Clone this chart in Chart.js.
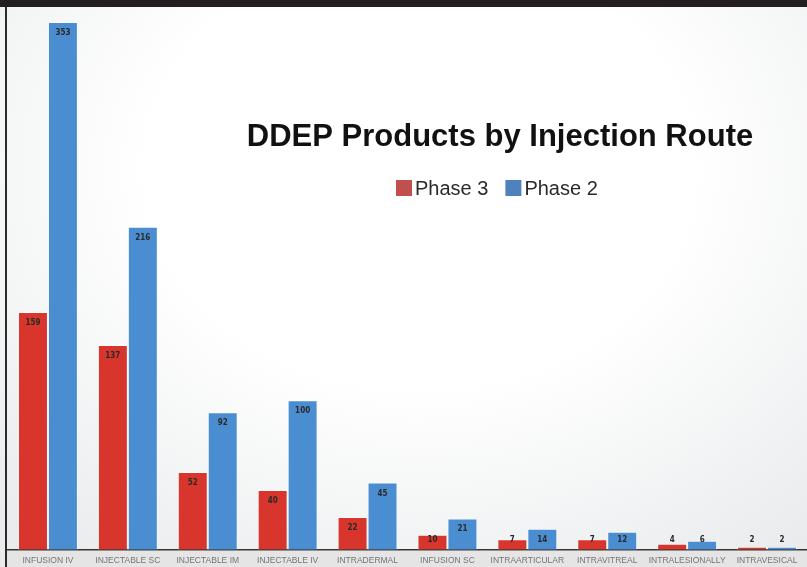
<!DOCTYPE html>
<html>
<head>
<meta charset="utf-8">
<title>DDEP Products by Injection Route</title>
<script src="https://cdn.jsdelivr.net/npm/chart.js@4.4.1/dist/chart.umd.min.js"></script>
<style>
  html, body { margin: 0; padding: 0; background: #fff; }
  #wrap {
    position: relative; width: 807px; height: 567px; overflow: hidden;
    background: radial-gradient(ellipse 75% 85% at 52% 30%, #ffffff 45%, #e9ebec 100%);
  }
  #topband { position: absolute; left: 0; top: 0; width: 807px; height: 7px; background: #231f20; }
  #leftline { position: absolute; left: 5px; top: 7px; width: 2px; height: 560px; background: #2b2b2b; }
  #footer { position: absolute; left: 7px; top: 551px; width: 800px; height: 16px; background: #e5e5e5; }
  #chart { position: absolute; left: 0; top: 0; }
</style>
</head>
<body>
<div id="wrap">
  <div id="footer"></div>
  <div id="topband"></div>
  <div id="leftline"></div>
  <canvas id="chart" width="807" height="567"></canvas>
</div>
<script>
var routes = ['INFUSION IV', 'INJECTABLE SC', 'INJECTABLE IM', 'INJECTABLE IV', 'INTRADERMAL',
              'INFUSION SC', 'INTRAARTICULAR', 'INTRAVITREAL', 'INTRALESIONALLY', 'INTRAVESICAL'];
var phase3 = [159, 137, 52, 40, 22, 10, 7, 7, 4, 2];
var phase2 = [353, 216, 92, 100, 45, 21, 14, 12, 6, 2];
var seriesNames = ['Phase 3', 'Phase 2'];
var barColors = ['#d8352d', '#4a8dd0'];
var legendColors = ['#c0504d', '#4f81bd'];
var chartTitle = 'DDEP Products by Injection Route';

// value written near the top of each bar
var barValues = {
  id: 'barValues',
  afterDatasetsDraw: function (chart) {
    var ctx = chart.ctx;
    ctx.save();
    ctx.font = "bold 8px 'DejaVu Sans Condensed', 'Liberation Sans Narrow', sans-serif";
    ctx.fillStyle = '#2a2a2a';
    ctx.textAlign = 'center';
    ctx.textBaseline = 'middle';
    chart.data.datasets.forEach(function (ds, i) {
      chart.getDatasetMeta(i).data.forEach(function (bar, j) {
        var y = Math.min(bar.y + 11, chart.chartArea.bottom - 10);
        ctx.fillText(ds.data[j], bar.x, y);
      });
    });
    ctx.restore();
  }
};

// title and legend sit inside the plot, upper right
var titleBlock = {
  id: 'titleBlock',
  afterDraw: function (chart) {
    var ctx = chart.ctx;
    ctx.save();
    ctx.fillStyle = '#111';
    ctx.textAlign = 'center';
    ctx.textBaseline = 'alphabetic';
    ctx.font = "bold 31px 'Liberation Sans', Arial, sans-serif";
    ctx.fillText(chartTitle, 500, 146);

    ctx.font = "20px 'Liberation Sans', Arial, sans-serif";
    ctx.textAlign = 'left';
    ctx.textBaseline = 'middle';
    var x = 396;
    seriesNames.forEach(function (name, i) {
      ctx.fillStyle = legendColors[i];
      ctx.fillRect(x, 180, 16, 16);
      ctx.fillStyle = '#2a2a2a';
      ctx.fillText(name, x + 19, 189);
      x += 19 + ctx.measureText(name).width + 17;
    });
    ctx.restore();
  }
};

new Chart(document.getElementById('chart'), {
  type: 'bar',
  data: {
    labels: routes,
    datasets: [
      { label: seriesNames[0], data: phase3, backgroundColor: barColors[0],
        borderColor: 'rgba(255,255,255,0.55)', borderWidth: 1 },
      { label: seriesNames[1], data: phase2, backgroundColor: barColors[1],
        borderColor: 'rgba(255,255,255,0.55)', borderWidth: 1 }
    ]
  },
  options: {
    responsive: false,
    animation: false,
    devicePixelRatio: 1,
    layout: { padding: { left: 8, right: 0, top: 7, bottom: -5 } },
    datasets: { bar: { categoryPercentage: 0.75, barPercentage: 1 } },
    plugins: {
      legend: { display: false },
      title: { display: false },
      tooltip: { enabled: false }
    },
    scales: {
      x: {
        grid: { display: false, drawTicks: false },
        border: { display: true, color: '#333', width: 1.5 },
        ticks: {
          color: '#747474',
          padding: 6,
          maxRotation: 0,
          autoSkip: false,
          font: { family: "'Liberation Sans', Arial, sans-serif", size: 8.5 }
        }
      },
      y: { display: false, min: 0, max: 363 }
    }
  },
  plugins: [barValues, titleBlock]
});
</script>
</body>
</html>
